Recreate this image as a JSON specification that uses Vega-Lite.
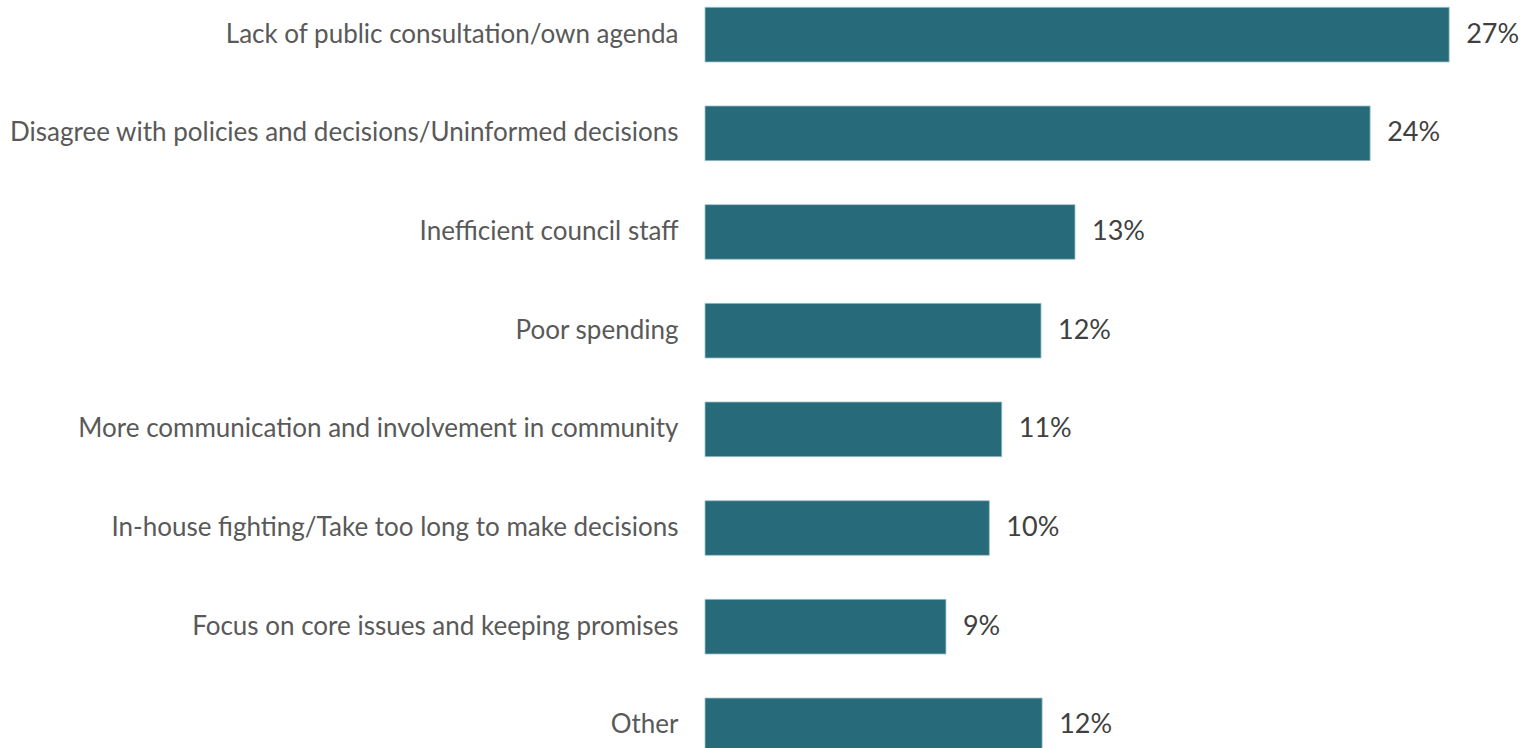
{
  "$schema": "https://vega.github.io/schema/vega-lite/v6.json",
  "width": 829,
  "height": 760,
  "autosize": {"type": "none"},
  "padding": {"left": 705, "top": 0, "right": 0, "bottom": 0},
  "background": "white",
  "config": {"view": {"stroke": null}, "font": "Lato"},
  "data": {
    "values": [
      {"reason": "Lack of public consultation/own agenda", "share": 0.2693},
      {"reason": "Disagree with policies and decisions/Uninformed decisions", "share": 0.2407},
      {"reason": "Inefficient council staff", "share": 0.1339},
      {"reason": "Poor spending", "share": 0.1216},
      {"reason": "More communication and involvement in community", "share": 0.1074},
      {"reason": "In-house fighting/Take too long to make decisions", "share": 0.1029},
      {"reason": "Focus on core issues and keeping promises", "share": 0.0872},
      {"reason": "Other", "share": 0.122}
    ]
  },
  "encoding": {
    "y": {
      "field": "reason",
      "type": "nominal",
      "sort": null,
      "scale": {"paddingInner": 0.446, "paddingOuter": 0.074},
      "axis": {
        "title": null,
        "domain": false,
        "ticks": false,
        "labelPadding": 27,
        "labelFontSize": 26,
        "labelColor": "#595959",
        "labelFont": "Lato",
        "labelLimit": 0
      }
    },
    "x": {
      "field": "share",
      "type": "quantitative",
      "scale": {"domain": [0, 0.3], "nice": false},
      "axis": null
    }
  },
  "layer": [
    {"mark": {"type": "bar", "color": "#276A79", "stroke": "#9EC3CB", "strokeWidth": 0.8}},
    {
      "mark": {"type": "text", "align": "left", "baseline": "middle", "dx": 17, "fontSize": 27, "color": "#404040", "font": "Lato"},
      "encoding": {"text": {"field": "share", "type": "quantitative", "format": ".0%"}}
    }
  ]
}
